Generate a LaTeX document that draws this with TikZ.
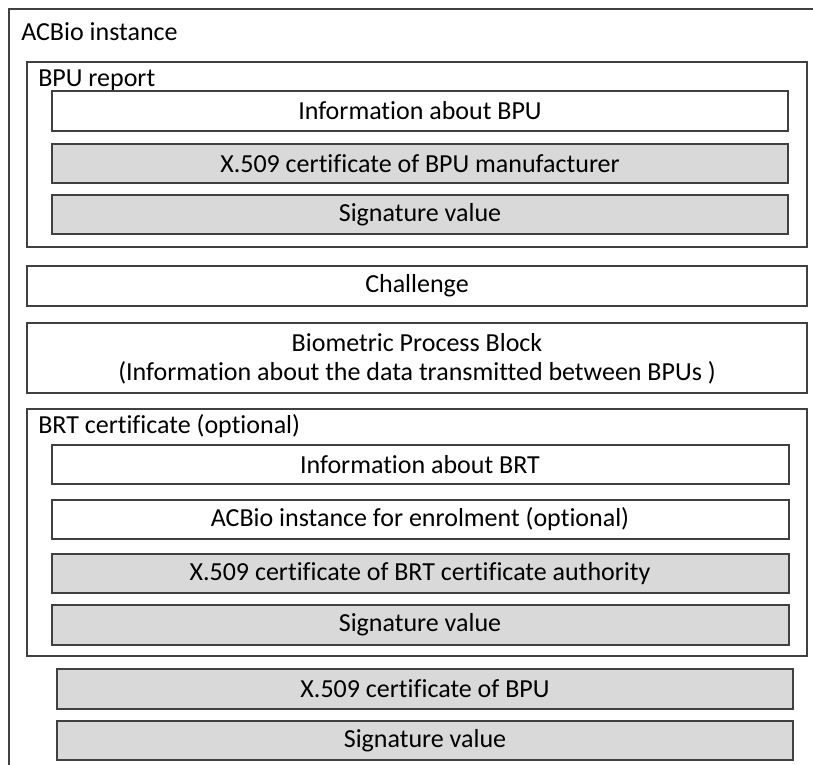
\documentclass[tikz,border=0pt]{standalone}
\usepackage{fontspec}
\setmainfont[Ligatures={NoCommon,NoRare}]{Carlito}
\begin{document}
\begin{tikzpicture}[x=0.75pt,y=-0.75pt,
  box/.style={draw=black!75,line width=1.1pt},
  wbox/.style={box,fill=white},
  gbox/.style={box,fill=black!15},
  lbl/.style={font=\fontsize{19.5}{21}\selectfont,inner sep=0pt},
  ttl/.style={lbl,anchor=base west}]
\useasboundingbox (0,0) rectangle (813,764);
\clip (0,0) rectangle (813,764);
% outer
\draw[box] (9,790) -- (9,9) -- (840,9);
\node[ttl] (tacbio) at (21,40) {ACBio instance};
% BPU report
\draw[wbox] (27,62) rectangle (807,247);
\node[ttl] (tbpu) at (38,86) {BPU report};
\draw[wbox] (52,91) rectangle (788,131);
\node[lbl] (n1) at (420,111) {Information about BPU};
\draw[gbox] (52,144) rectangle (788,183);
\node[lbl] (n2) at (420,163.5) {X.509 certificate of BPU manufacturer};
\draw[gbox] (52,195) rectangle (788,234);
\node[lbl] (n3) at (420,214.5) {Signature value};
% challenge
\draw[wbox] (27,266) rectangle (807,306);
\node[lbl] (n4) at (417,286) {Challenge};
% biometric
\draw[wbox] (27,323) rectangle (807,393);
\node[lbl,align=center,font=\fontsize{19.5}{22}\selectfont] (n5) at (417,359) {Biometric Process Block\\(Information about the data transmitted between BPUs )};
% BRT certificate
\draw[wbox] (27,409) rectangle (807,656);
\node[ttl] (tbrt) at (38,433) {BRT certificate (optional)};
\draw[wbox] (52,445) rectangle (789,484);
\node[lbl] (n6) at (420,464.5) {Information about BRT};
\draw[wbox] (52,500) rectangle (789,539);
\node[lbl] (n7) at (420,519.5) {ACBio instance for enrolment (optional)};
\draw[gbox] (52,554) rectangle (789,593);
\node[lbl] (n8) at (420,573.5) {X.509 certificate of BRT certificate authority};
\draw[gbox] (52,605) rectangle (789,645);
\node[lbl] (n9) at (420,625) {Signature value};
% bottom
\draw[gbox] (57,669) rectangle (793,709);
\node[lbl] (n10) at (425,689) {X.509 certificate of BPU};
\draw[gbox] (57,721) rectangle (793,760);
\node[lbl] (n11) at (425,740.5) {Signature value};
\end{tikzpicture}
\end{document}
